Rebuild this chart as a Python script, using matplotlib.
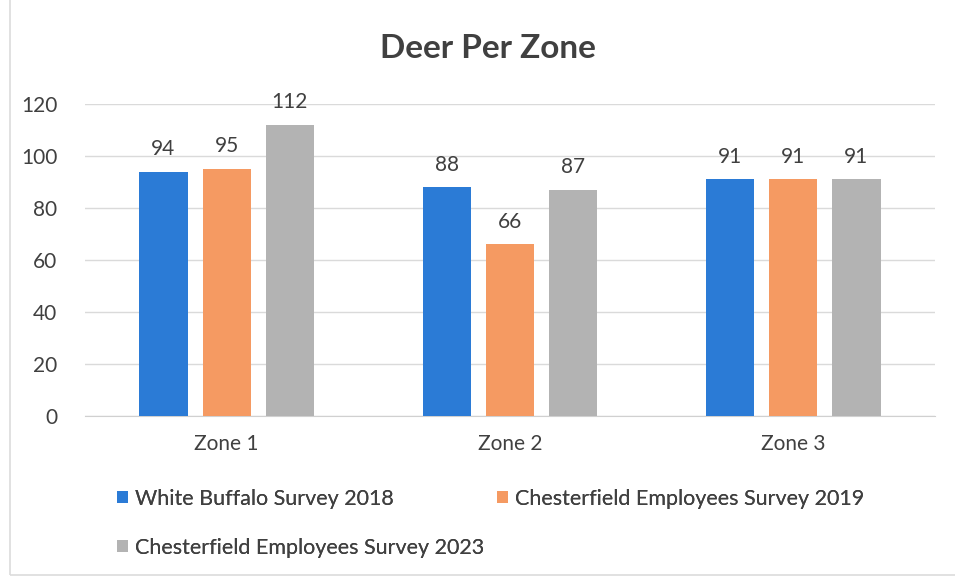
import numpy as np
from matplotlib import pyplot as plt
from matplotlib.patches import Patch, Rectangle

# data
zones = ["Zone 1", "Zone 2", "Zone 3"]
series_names = ["White Buffalo Survey 2018",
                "Chesterfield Employees Survey 2019",
                "Chesterfield Employees Survey 2023"]
wb_2018 = [94, 88, 91]
ce_2019 = [95, 66, 91]
ce_2023 = [112, 87, 91]
y_ticks = [0, 20, 40, 60, 80, 100, 120]

colors = ["#2b7bd6", "#f59a62", "#b3b3b3"]
txt = "#404040"

plt.rcParams['font.family'] = ['Lato', 'DejaVu Sans']

fig = plt.figure(figsize=(9.55, 5.79), dpi=100)
ax = fig.add_axes([0.089, 0.2815, 0.890, 0.539])

# faint chart border from the scan
fig.patches.append(Rectangle((10 / 955, 4 / 579), 1.0, 1.0, transform=fig.transFigure,
                             fill=False, edgecolor="#dcdcdc", linewidth=1.2))

x = np.arange(len(zones))
w = 0.17
gap = 0.053
values = [wb_2018, ce_2019, ce_2023]
for i in range(3):
    off = (i - 1) * (w + gap)
    bars = ax.bar(x + off, values[i], width=w, color=colors[i], zorder=3)
    ax.bar_label(bars, padding=9, fontsize=15, color=txt)

ax.set_xlim(-0.5, 2.5)
ax.set_ylim(0, 120)
ax.set_yticks(y_ticks)
ax.set_xticks(x)
ax.set_xticklabels(zones)
ax.grid(axis='y', color="#dadada", linewidth=1, zorder=0)
for s in ["top", "right", "left"]:
    ax.spines[s].set_visible(False)
ax.spines["bottom"].set_color("#d0d0d0")
ax.tick_params(axis='both', length=0, labelsize=15, colors=txt)
ax.tick_params(axis='y', pad=20)
ax.tick_params(axis='x', pad=13)

fig.text(0.511, 0.916, "Deer Per Zone", ha='center', va='center',
         fontsize=24, fontweight='bold', color=txt)

# legend laid out like the Excel flow legend (pixel positions of each entry)
legend_px = [(117, 499), (497, 499), (117, 548)]
for i in range(3):
    h = [Patch(facecolor=colors[i], edgecolor='none')]
    lg = fig.legend(h, [series_names[i]], loc='center left',
                    bbox_to_anchor=(legend_px[i][0] / 955, 1 - legend_px[i][1] / 579),
                    frameon=False, fontsize=15.5, handlelength=0.5, handleheight=0.5,
                    handletextpad=0.35, borderpad=0, borderaxespad=0, labelcolor=txt)
    fig.add_artist(lg)

fig.savefig("out.png", dpi=100)
